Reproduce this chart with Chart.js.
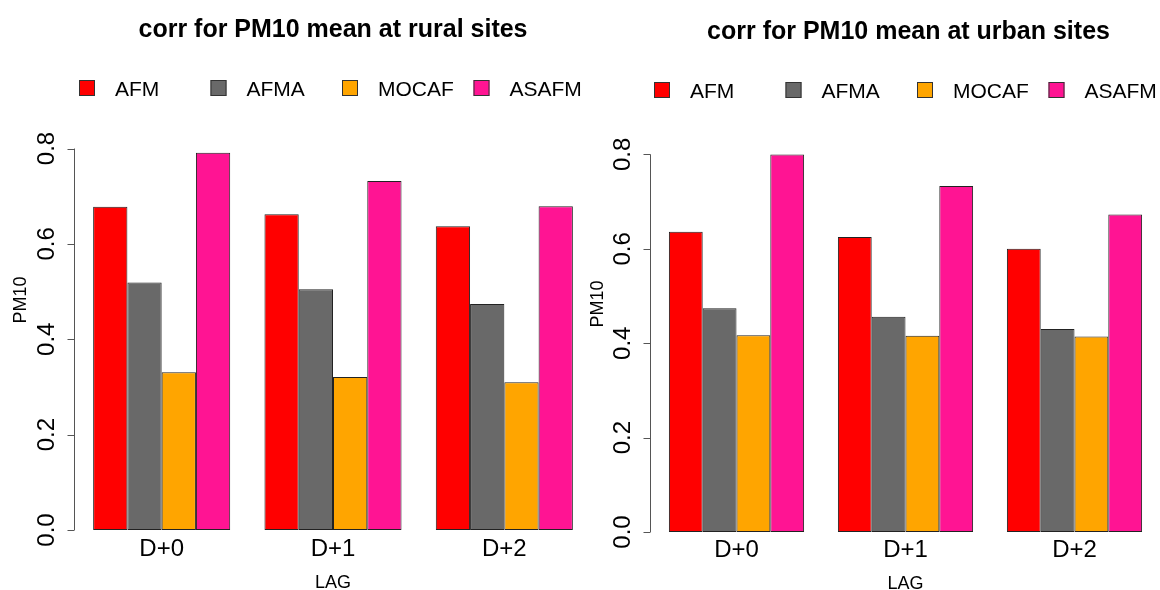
<!DOCTYPE html>
<html>
<head>
<meta charset="utf-8">
<script src="https://cdn.jsdelivr.net/npm/chart.js@4/dist/chart.umd.min.js"></script>
<style>
  body { margin: 0; background: #fff; }
  #wrap { position: relative; width: 1160px; height: 590px; overflow: hidden; }
  canvas { position: absolute; top: 0; }
</style>
</head>
<body>
<div id="wrap">
  <canvas id="rural" width="590" height="590" style="left:0"></canvas>
  <canvas id="urban" width="570" height="590" style="left:590px"></canvas>
</div>
<script>
const lags = ['D+0', 'D+1', 'D+2'];
const models = ['AFM', 'AFMA', 'MOCAF', 'ASAFM'];
const modelColors = ['#ff0000', '#696969', '#ffa500', '#ff1493'];

const ruralAFM = [0.678, 0.662, 0.637];
const ruralAFMA = [0.519, 0.505, 0.474];
const ruralMOCAF = [0.331, 0.321, 0.310];
const ruralASAFM = [0.791, 0.732, 0.679];

const urbanAFM = [0.636, 0.625, 0.600];
const urbanAFMA = [0.474, 0.456, 0.430];
const urbanMOCAF = [0.417, 0.416, 0.414];
const urbanASAFM = [0.800, 0.733, 0.673];

const yTicks = [0, 0.2, 0.4, 0.6, 0.8];
const yTickLabels = ['0.0', '0.2', '0.4', '0.6', '0.8'];

const FONT = '"Liberation Sans", Arial, Helvetica, sans-serif';

// draws the R-like bits: title, legend row, left axis, axis titles
const rStyle = {
  id: 'rStyle',
  afterDraw(chart, args, opts) {
    const { ctx, chartArea: a } = chart;
    const y = chart.scales.y;
    const midX = (a.left + a.right) / 2;
    ctx.save();
    ctx.fillStyle = '#000';

    ctx.font = 'bold 25px ' + FONT;
    ctx.textAlign = 'center';
    ctx.textBaseline = 'alphabetic';
    ctx.fillText(opts.title, midX + opts.titleShift, opts.titleY);

    // legend, fixed column width like R's horiz legend
    ctx.font = '21px ' + FONT;
    ctx.textAlign = 'left';
    chart.data.datasets.forEach((ds, i) => {
      const x = opts.legendX + i * 131.5;
      ctx.fillStyle = ds.backgroundColor;
      ctx.fillRect(x, opts.legendY - 8, 16, 16);
      ctx.strokeStyle = '#333';
      ctx.lineWidth = 1;
      ctx.strokeRect(x + 0.5, opts.legendY - 7.5, 15, 15);
      ctx.fillStyle = '#000';
      ctx.fillText(ds.label, x + 36, opts.legendBase);
    });

    // y axis
    const ax = Math.round(a.left - 2) + 0.5;
    ctx.strokeStyle = '#555';
    ctx.lineWidth = 1;
    ctx.beginPath();
    ctx.moveTo(ax, y.getPixelForValue(yTicks[0]));
    ctx.lineTo(ax, y.getPixelForValue(yTicks[yTicks.length - 1]));
    yTicks.forEach(v => {
      const py = Math.round(y.getPixelForValue(v)) + 0.5;
      ctx.moveTo(ax, py);
      ctx.lineTo(ax - 7, py);
    });
    ctx.stroke();

    ctx.font = '24px ' + FONT;
    ctx.textAlign = 'center';
    ctx.textBaseline = 'middle';
    yTicks.forEach((v, i) => {
      ctx.save();
      ctx.translate(ax - 27, y.getPixelForValue(v));
      ctx.rotate(-Math.PI / 2);
      ctx.fillText(yTickLabels[i], 0, 0);
      ctx.restore();
    });

    ctx.font = '18px ' + FONT;
    ctx.save();
    ctx.translate(ax - opts.yTitleDx, opts.yTitleY);
    ctx.rotate(-Math.PI / 2);
    ctx.fillText('PM10', 0, 0);
    ctx.restore();

    ctx.textBaseline = 'alphabetic';
    ctx.fillText('LAG', midX, opts.xTitleBase);
    ctx.restore();
  }
};

function makeChart(id, series, pad, axisH, tickPad, opts) {
  return new Chart(document.getElementById(id), {
    type: 'bar',
    data: {
      labels: lags,
      datasets: models.map((m, i) => ({
        label: m,
        data: series[i],
        backgroundColor: modelColors[i],
        borderColor: '#222',
        borderWidth: 1,
        borderSkipped: false,
        categoryPercentage: 0.8,
        barPercentage: 1.0,
      })),
    },
    options: {
      responsive: false,
      animation: false,
      layout: { padding: pad },
      plugins: {
        legend: { display: false },
        tooltip: { enabled: false },
        rStyle: opts,
      },
      scales: {
        x: {
          grid: { display: false, drawTicks: false },
          border: { display: false },
          ticks: { color: '#000', font: { family: FONT, size: 24 }, padding: tickPad },
          afterFit: s => { s.height = axisH; },
        },
        y: { display: false, min: 0, max: 0.82 },
      },
    },
    plugins: [rStyle],
  });
}

makeChart('rural', [ruralAFM, ruralAFMA, ruralMOCAF, ruralASAFM],
  { left: 76, right: 0, top: 139, bottom: 0 }, 60, 5,
  { title: 'corr for PM10 mean at rural sites', titleShift: 0, titleY: 37,
    legendX: 79, legendY: 88, legendBase: 96,
    yTitleDx: 53, yTitleY: 300, xTitleBase: 588 });

makeChart('urban', [urbanAFM, urbanAFMA, urbanMOCAF, urbanASAFM],
  { left: 62, right: 1, top: 145, bottom: 0 }, 58, 4,
  { title: 'corr for PM10 mean at urban sites', titleShift: 3, titleY: 39,
    legendX: 64, legendY: 90, legendBase: 98,
    yTitleDx: 52, yTitleY: 304, xTitleBase: 589 });
</script>
</body>
</html>
